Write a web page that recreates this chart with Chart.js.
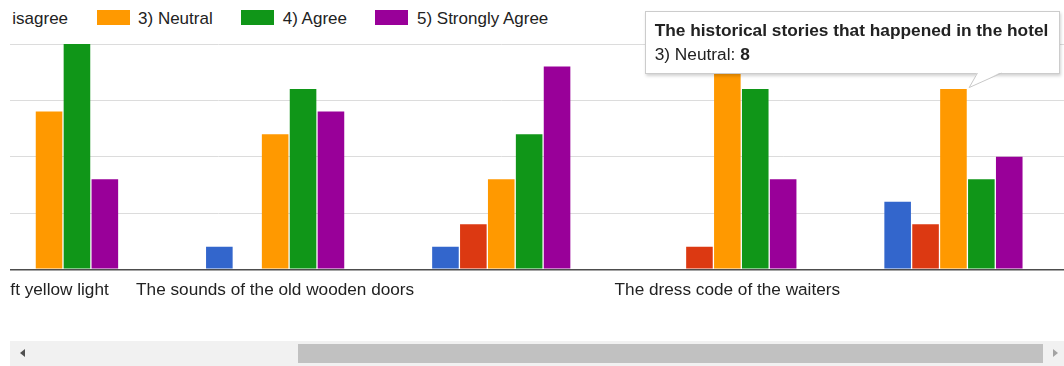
<!DOCTYPE html>
<html>
<head>
<meta charset="utf-8">
<script src="https://cdn.jsdelivr.net/npm/chart.js@4/dist/chart.umd.min.js"></script>
<style>
  body { margin: 0; width: 1064px; height: 366px; overflow: hidden; background: #fff;
         font-family: Arial, "Liberation Sans", sans-serif; }
  #viewport { position: absolute; left: 10px; top: 0; width: 1054px; height: 330px; overflow: hidden; }
  #legendClip { position: absolute; left: 2px; top: 0; width: 1052px; height: 40px; overflow: hidden; }
  #legend { position: absolute; top: 0; left: 0; display: flex; white-space: nowrap; font-size: 17px; color: #222; }
  .item { display: flex; align-items: flex-start; margin-right: 28.5px; }
  .swatch { width: 33px; height: 15px; margin-top: 10px; margin-right: 8.5px; }
  .item span { line-height: 20px; margin-top: 8.5px; }
  #chart { position: absolute; left: -73.6px; top: 0; }
  #tip { position: absolute; display: none; background: #fff; border: 1px solid #ccc;
         box-shadow: 1px 2px 3px rgba(0,0,0,0.18); padding: 6px 11px 7px 9px;
         font-size: 17.3px; line-height: 24px; color: #222; white-space: nowrap; }
  #tip .t-title { font-weight: bold; }
  #tail { position: absolute; left: 0; top: 0; width: 1064px; height: 366px; pointer-events: none; }
  #track { position: absolute; left: 10px; top: 341px; width: 1054px; height: 25px; background: #f1f1f1; }
  #thumb { position: absolute; left: 287.7px; top: 3px; width: 745px; height: 19px; background: #c1c1c1; }
  #arrL { position: absolute; left: 10px; top: 8px; width: 0; height: 0;
          border-top: 4px solid transparent; border-bottom: 4px solid transparent; border-right: 5px solid #505050; }
  #arrR { position: absolute; left: 1043px; top: 8px; width: 0; height: 0;
          border-top: 4px solid transparent; border-bottom: 4px solid transparent; border-left: 5px solid #a3a3a3; }
</style>
</head>
<body>
<div id="viewport">
  <div id="legendClip"><div id="legend"></div></div>
  <canvas id="chart" width="1140" height="312"></canvas>
</div>
<div id="tip"><div class="t-title"></div><div class="t-body"></div></div>
<svg id="tail"></svg>
<div id="track"><div id="thumb"></div><div id="arrL"></div><div id="arrR"></div></div>

<script>
// survey answers per statement
const categories = [
  'Soft yellow light',
  'The sounds of the old wooden doors',
  '',
  'The dress code of the waiters',
  'The historical stories that happened in the hotel'
];
// labels that fit on the axis (the others are skipped)
const shownLabels = [true, true, false, true, false];

const seriesNames = ['1) Strongly Disagree', '2) Disagree', '3) Neutral', '4) Agree', '5) Strongly Agree'];
const stronglyDisagree = [1, 1, 1, 0, 3];
const disagree = [0, 0, 2, 1, 2];
const neutral = [7, 6, 4, 9, 8];
const agree = [10, 8, 6, 8, 4];
const stronglyAgree = [4, 7, 9, 4, 5];
const seriesColors = ['#3366cc', '#dc3912', '#ff9900', '#109618', '#990099'];

const yMax = 10;
const yStep = 2.5;

Chart.defaults.font.family = 'Arial, "Liberation Sans", sans-serif';
Chart.defaults.font.size = 17;
Chart.defaults.color = '#222';

const seriesValues = [stronglyDisagree, disagree, neutral, agree, stronglyAgree];

function drawTooltip(context) {
  const { chart, tooltip } = context;
  const tip = document.getElementById('tip');
  const tail = document.getElementById('tail');
  if (tooltip.opacity === 0 || !tooltip.dataPoints || !tooltip.dataPoints.length) {
    tip.style.display = 'none';
    tail.innerHTML = '';
    return;
  }
  const dp = tooltip.dataPoints[0];
  const bar = dp.element;
  tip.querySelector('.t-title').textContent = categories[dp.dataIndex];
  tip.querySelector('.t-body').innerHTML = dp.dataset.label + ': <b>' + dp.raw + '</b>';
  tip.style.display = 'block';

  // tail points at the top right corner of the bar
  const rect = chart.canvas.getBoundingClientRect();
  const px = rect.left + bar.x + bar.width / 2 + 2;
  const py = rect.top + bar.y - 1.5;
  const right = px + 91.5;
  const bottom = py - 14;
  tip.style.left = (right - tip.offsetWidth) + 'px';
  tip.style.top = (bottom - tip.offsetHeight) + 'px';

  const b1 = px + 8.3, b2 = px + 32.3;
  tail.innerHTML =
    '<polygon points="' + b1 + ',' + (bottom - 1.5) + ' ' + b2 + ',' + (bottom - 1.5) + ' ' + px + ',' + py + '" fill="#fff"/>' +
    '<polyline points="' + b1 + ',' + (bottom - 0.5) + ' ' + px + ',' + py + ' ' + b2 + ',' + (bottom - 0.5) + '" fill="none" stroke="#c8c8c8" stroke-width="1"/>';
}

const chart = new Chart(document.getElementById('chart'), {
  type: 'bar',
  data: {
    labels: categories,
    datasets: seriesNames.map((name, i) => ({
      label: name,
      data: seriesValues[i],
      backgroundColor: seriesColors[i],
      borderWidth: 0,
      categoryPercentage: 0.617,
      barPercentage: 0.953
    }))
  },
  options: {
    responsive: false,
    animation: false,
    layout: { padding: { top: 44, right: 9.5, bottom: 0, left: 0 } },
    plugins: {
      legend: { display: false },
      tooltip: { enabled: false, external: drawTooltip }
    },
    scales: {
      x: {
        grid: { display: false, drawTicks: false },
        border: { display: false },
        ticks: {
          autoSkip: false,
          maxRotation: 0,
          minRotation: 0,
          padding: 11,
          color: '#222',
          font: { size: 17.2 },
          callback: (v, i) => shownLabels[i] ? categories[i] : ''
        }
      },
      y: {
        min: 0,
        max: yMax,
        ticks: { display: false, stepSize: yStep },
        border: { display: false },
        grid: {
          drawTicks: false,
          color: c => c.tick.value === 0 ? '#4d4d4d' : '#dcdcdc',
          lineWidth: c => c.tick.value === 0 ? 1.5 : 1
        },
        afterFit: s => { s.width = 0; }
      }
    }
  }
});

// legend row built from the datasets
const legend = document.getElementById('legend');
chart.data.datasets.forEach(ds => {
  const item = document.createElement('div');
  item.className = 'item';
  const sw = document.createElement('div');
  sw.className = 'swatch';
  sw.style.background = ds.backgroundColor;
  const txt = document.createElement('span');
  txt.textContent = ds.label;
  item.appendChild(sw);
  item.appendChild(txt);
  legend.appendChild(item);
});
// scrolled so the third entry sits near the left edge
legend.style.left = (84.7 - legend.children[2].offsetLeft) + 'px';

// hovered bar: "3) Neutral" of the last statement
chart.tooltip.setActiveElements([{ datasetIndex: 2, index: 4 }], { x: 0, y: 0 });
chart.update();
</script>
</body>
</html>
